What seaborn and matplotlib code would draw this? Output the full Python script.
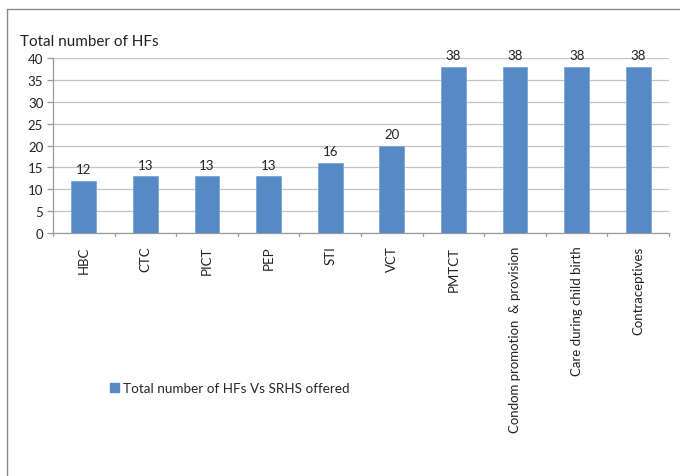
import matplotlib
matplotlib.use("Agg")
import matplotlib.pyplot as plt
import seaborn as sns
import pandas as pd
from matplotlib.lines import Line2D
from matplotlib.patches import Patch

categories = ["HBC", "CTC", "PICT", "PEP", "STI", "VCT", "PMTCT",
              "Condom promotion  & provision", "Care during child birth", "Contraceptives"]
values = [12, 13, 13, 13, 16, 20, 38, 38, 38, 38]
series_name = "Total number of HFs Vs SRHS offered"
y_title = "Total number of HFs"

sns.set_theme(style="white")
plt.rcParams['font.family'] = ['Lato', 'DejaVu Sans']

df = pd.DataFrame({"cat": categories, "val": values})
bar_color = "#5789C5"
fs = 9.5

fig = plt.figure(figsize=(6.8, 4.77), dpi=100)
ax = fig.add_axes([53/680, 1-234/477, (669-53)/680, (234-59)/477])

sns.barplot(data=df, x="cat", y="val", color=bar_color, saturation=1, width=0.4, ax=ax,
            edgecolor="#7FA6D6", linewidth=0.6, zorder=3)

ax.set_ylim(0, 40)
ax.set_yticks(range(0, 41, 5))
ax.set_xlim(-0.5, len(categories) - 0.5)
ax.yaxis.grid(True, color="#c4c4c4", linewidth=0.9, zorder=0)
ax.set_axisbelow(True)
for s in ["top", "right"]:
    ax.spines[s].set_visible(False)
for s in ["left", "bottom"]:
    ax.spines[s].set_color("#9a9a9a")
    ax.spines[s].set_linewidth(0.9)

ax.set_xlabel("")
ax.set_ylabel("")
ax.set_xticks(range(len(categories)))
ax.set_xticklabels(categories, rotation=90, fontsize=fs, color="#222222")
ax.tick_params(axis="x", length=0, pad=9)
# boundary ticks on x axis
for b in [i - 0.5 for i in range(len(categories) + 1)]:
    ax.plot([b, b], [0, -0.016], transform=ax.get_xaxis_transform(),
            color="#9a9a9a", linewidth=0.9, clip_on=False)
ax.tick_params(axis="y", length=4, width=0.9, color="#9a9a9a", labelsize=fs,
               labelcolor="#222222", pad=3, left=True, direction="out")

for i, v in enumerate(values):
    ax.annotate(str(v), (i, v), xytext=(0, 4), textcoords="offset points",
                ha="center", va="bottom", fontsize=fs, color="#222222")

fig.text(20/680, 1-42/477, y_title, ha="left", va="center", fontsize=11, color="#222222")

handle = Patch(facecolor=bar_color, edgecolor=bar_color)
fig.legend([handle], [series_name], loc="center left", bbox_to_anchor=(103/680, 1-389/477),
           frameon=False, fontsize=fs + 0.2, handlelength=0.7, handleheight=0.7,
           handletextpad=0.3, borderpad=0)

# outer frame (left and top visible)
fig.add_artist(Line2D([7/680, 7/680], [0, 1-10/477], transform=fig.transFigure,
                      color="#8a8a8a", linewidth=1.0))
fig.add_artist(Line2D([7/680, 1], [1-10/477, 1-10/477], transform=fig.transFigure,
                      color="#8a8a8a", linewidth=1.0))

fig.savefig("out.png", dpi=100)
